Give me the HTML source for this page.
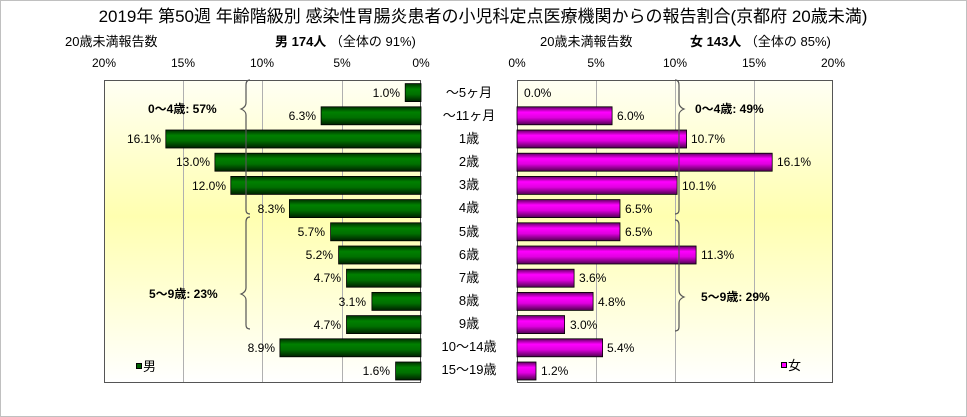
<!DOCTYPE html>
<html><head><meta charset="utf-8"><style>
body{margin:0;background:#fff;}
svg{display:block;font-family:"Liberation Sans","Noto Sans CJK JP",sans-serif;}
</style></head><body>
<svg width="967" height="417" viewBox="0 0 967 417" xmlns="http://www.w3.org/2000/svg">
<defs>
<linearGradient id="bg" x1="0" y1="0" x2="0" y2="1">
<stop offset="0" stop-color="#fffff4"/><stop offset="0.45" stop-color="#ffffb0"/><stop offset="1" stop-color="#ffffff"/>
</linearGradient>
<linearGradient id="gm" x1="0" y1="0" x2="0" y2="1">
<stop offset="0" stop-color="#003000"/><stop offset="0.3" stop-color="#008000"/><stop offset="0.6" stop-color="#007000"/><stop offset="1" stop-color="#002000"/>
</linearGradient>
<linearGradient id="gf" x1="0" y1="0" x2="0" y2="1">
<stop offset="0" stop-color="#600060"/><stop offset="0.3" stop-color="#ff00ff"/><stop offset="0.6" stop-color="#e000e0"/><stop offset="1" stop-color="#500050"/>
</linearGradient>
</defs>
<rect x="0.5" y="0.5" width="966" height="416" fill="#fff" stroke="#c0c0c0"/>
<text x="483" y="22" font-size="17" text-anchor="middle" fill="#000">2019年 第50週 年齢階級別 感染性胃腸炎患者の小児科定点医療機関からの報告割合(京都府 20歳未満)</text>
<text x="65" y="46" font-size="13">20歳未満報告数</text>
<text x="275" y="46" font-size="13"><tspan font-weight="bold">男 174人</tspan> （全体の 91%)</text>
<text x="540" y="46" font-size="13">20歳未満報告数</text>
<text x="690" y="46" font-size="13"><tspan font-weight="bold">女 143人</tspan> （全体の 85%)</text>
<g font-size="12" text-anchor="middle">
<text x="104" y="67">20%</text><text x="183" y="67">15%</text><text x="262" y="67">10%</text><text x="342" y="67">5%</text><text x="421" y="67">0%</text>
<text x="517" y="67">0%</text><text x="596" y="67">5%</text><text x="675" y="67">10%</text><text x="754" y="67">15%</text><text x="833" y="67">20%</text>
</g>
<rect x="104" y="80" width="317" height="303" fill="url(#bg)"/>
<rect x="517" y="80" width="316" height="303" fill="url(#bg)"/>
<g stroke="#b0b0b0" stroke-width="1">
<line x1="183.5" y1="80" x2="183.5" y2="383"/><line x1="262.5" y1="80" x2="262.5" y2="383"/><line x1="342.5" y1="80" x2="342.5" y2="383"/>
<line x1="596.5" y1="80" x2="596.5" y2="383"/><line x1="675.5" y1="80" x2="675.5" y2="383"/><line x1="754.5" y1="80" x2="754.5" y2="383"/>
</g>
<rect x="104.5" y="80.5" width="316" height="302" fill="none" stroke="#555"/>
<rect x="517.5" y="80.5" width="315" height="302" fill="none" stroke="#555"/>
<g fill="url(#gm)" stroke="#000" stroke-width="0.8">
<rect x="405.2" y="83.6" width="15.8" height="18"/>
<rect x="321.1" y="106.8" width="99.9" height="18"/>
<rect x="165.8" y="130" width="255.2" height="18"/>
<rect x="214.9" y="153.2" width="206.1" height="18"/>
<rect x="230.8" y="176.4" width="190.2" height="18"/>
<rect x="289.4" y="199.6" width="131.6" height="18"/>
<rect x="330.6" y="222.8" width="90.4" height="18"/>
<rect x="338.6" y="246" width="82.4" height="18"/>
<rect x="346.5" y="269.2" width="74.5" height="18"/>
<rect x="371.9" y="292.4" width="49.1" height="18"/>
<rect x="346.5" y="315.6" width="74.5" height="18"/>
<rect x="279.9" y="338.8" width="141.1" height="18"/>
<rect x="395.6" y="362" width="25.4" height="18"/>
</g>
<g font-size="12" text-anchor="end">
<text x="400" y="97">1.0%</text><text x="316" y="120">6.3%</text><text x="161" y="143">16.1%</text><text x="210" y="166">13.0%</text>
<text x="226" y="190">12.0%</text><text x="285" y="213">8.3%</text><text x="325" y="236">5.7%</text><text x="333" y="259">5.2%</text>
<text x="341" y="282">4.7%</text><text x="366" y="306">3.1%</text><text x="341" y="329">4.7%</text><text x="275" y="352">8.9%</text><text x="390" y="375">1.6%</text>
</g>
<g fill="url(#gf)" stroke="#000" stroke-width="0.8">
<rect x="517" y="106.8" width="95.1" height="18"/>
<rect x="517" y="130" width="169.6" height="18"/>
<rect x="517" y="153.2" width="255.2" height="18"/>
<rect x="517" y="176.4" width="160.1" height="18"/>
<rect x="517" y="199.6" width="103" height="18"/>
<rect x="517" y="222.8" width="103" height="18"/>
<rect x="517" y="246" width="179.1" height="18"/>
<rect x="517" y="269.2" width="57.1" height="18"/>
<rect x="517" y="292.4" width="76.1" height="18"/>
<rect x="517" y="315.6" width="47.6" height="18"/>
<rect x="517" y="338.8" width="85.6" height="18"/>
<rect x="517" y="362" width="19" height="18"/>
</g>
<g font-size="12">
<text x="524" y="97">0.0%</text><text x="617" y="120">6.0%</text><text x="691" y="143">10.7%</text><text x="777" y="166">16.1%</text>
<text x="682" y="190">10.1%</text><text x="625" y="213">6.5%</text><text x="625" y="236">6.5%</text><text x="701" y="259">11.3%</text>
<text x="579" y="282">3.6%</text><text x="598" y="306">4.8%</text><text x="570" y="329">3.0%</text><text x="607" y="352">5.4%</text><text x="541" y="375">1.2%</text>
</g>
<g font-size="13" text-anchor="middle">
<text x="469" y="97">～5ヶ月</text><text x="469" y="120">～11ヶ月</text><text x="469" y="143">1歳</text><text x="469" y="166">2歳</text>
<text x="469" y="189">3歳</text><text x="469" y="212">4歳</text><text x="469" y="236">5歳</text><text x="469" y="259">6歳</text>
<text x="469" y="282">7歳</text><text x="469" y="305">8歳</text><text x="469" y="328">9歳</text><text x="469" y="351">10～14歳</text><text x="469" y="374">15～19歳</text>
</g>
<g fill="none" stroke="#555" stroke-width="1.2">
<path d="M250,80 q-4,0 -4,5 v18 q0,4 -5,6 q5,2 5,6 v95 q0,4 4,4"/>
<path d="M250,217 q-4,0 -4,5 v66 q0,4 -5,6 q5,2 5,6 v25 q0,4 4,4"/>
<path d="M675,80 q4,0 4,5 v18 q0,4 5,6 q-5,2 -5,6 v95 q0,4 -4,4"/>
<path d="M675,220 q4,0 4,5 v66 q0,4 5,6 q-5,2 -5,6 v24 q0,4 -4,4"/>
</g>
<g font-size="12" font-weight="bold">
<text x="148" y="113">0～4歳: 57%</text>
<text x="149" y="298">5～9歳: 23%</text>
<text x="695" y="113">0～4歳: 49%</text>
<text x="701" y="301">5～9歳: 29%</text>
</g>
<rect x="136.5" y="363.5" width="5" height="5" fill="#006000" stroke="#000"/>
<text x="143" y="371" font-size="13">男</text>
<rect x="781.5" y="362.5" width="5" height="5" fill="#ff00ff" stroke="#000"/>
<text x="788" y="370" font-size="13">女</text>
</svg>
</body></html>
